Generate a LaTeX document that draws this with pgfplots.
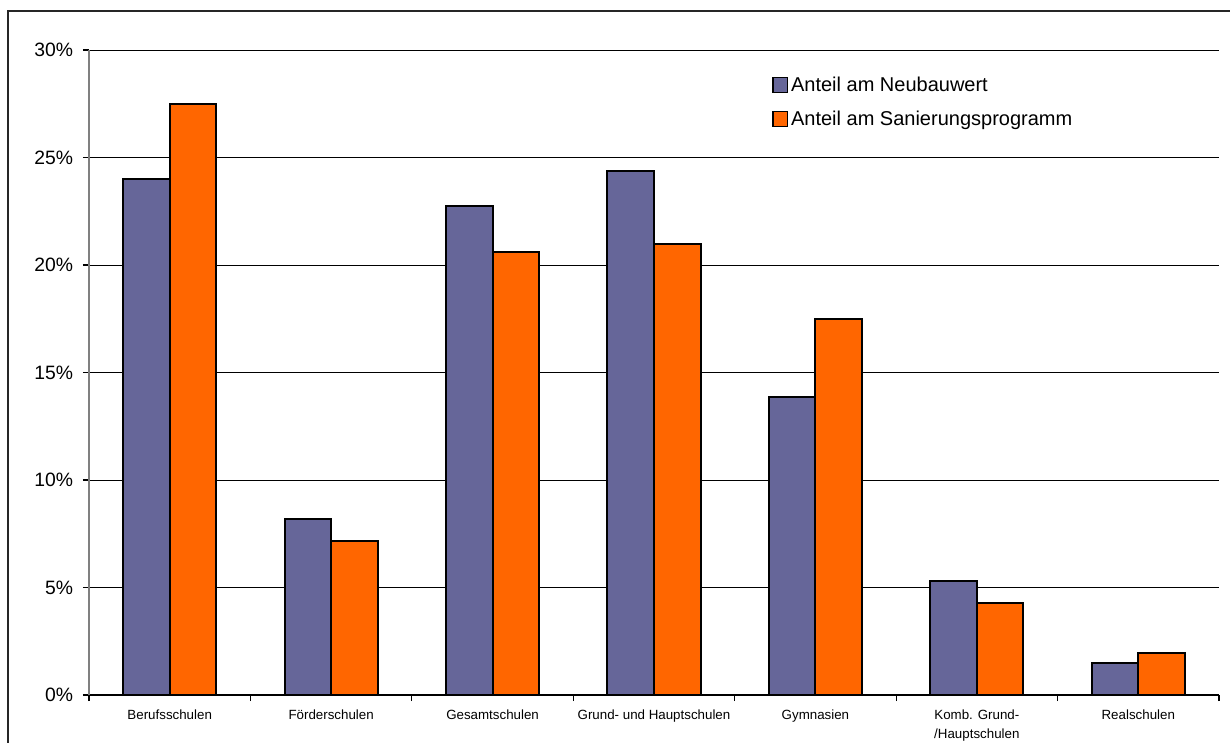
\documentclass[border=0pt]{standalone}
\usepackage{pgfplots}
\pgfplotsset{compat=1.18}
\usepackage{fontspec}
\setmainfont{Liberation Sans}
\definecolor{cblue}{HTML}{666699}
\definecolor{corange}{HTML}{FF6600}
\begin{document}
\begin{tikzpicture}[x=0.75pt,y=0.75pt]
\useasboundingbox (0,0) rectangle (1230,742);
\draw[line width=1.1pt, black!85] (8,-20) -- (8,731) -- (1260,731);
\begin{axis}[
  at={(66.75pt,35.25pt)}, anchor=south west,
  scale only axis,
  width=847.5pt, height=483.75pt,
  ybar=0pt, bar width=34.9pt,
  xmin=-0.5, xmax=6.5, ymin=0, ymax=30,
  axis x line*=bottom, axis y line*=left,
  x axis line style={-, black, line width=0.9pt},
  y axis line style={-, gray, line width=0.9pt},
  xtick={0,...,6},
  xticklabels={Berufsschulen,Förderschulen,Gesamtschulen,Grund- und Hauptschulen,Gymnasien,{Komb. Grund-\\/Hauptschulen},Realschulen},
  xticklabel style={align=center, font=\fontsize{10}{14}\selectfont, text depth=0pt, yshift=-3pt},
  major x tick style={draw=none},
  minor xtick={-0.5,0.5,...,6.5},
  minor x tick style={black, line width=0.8pt},
  ytick={0,5,...,30},
  yticklabel={\pgfmathprintnumber{\tick}\%},
  yticklabel style={font=\fontsize{14.5}{16}\selectfont, xshift=-4pt},
  y tick style={black, line width=0.8pt},
  tick align=outside,
  major tick length=4.5pt, minor tick length=4.5pt,
  ymajorgrids, grid style={black, line width=0.6pt},
  /pgf/number format/assume math mode=true,
  legend style={at={(0.601,0.967)}, anchor=north west, draw=none, fill=none,
    font=\fontsize{15}{18}\selectfont, row sep=9pt,
    legend cell align=left},
  legend image code/.code={\draw[#1, line width=1pt] (0pt,-5.5pt) rectangle (11pt,5.5pt);},
]
\addplot[fill=cblue, draw=black, line width=1.5pt] coordinates {(0,24.0) (1,8.2) (2,22.75) (3,24.37) (4,13.86) (5,5.3) (6,1.49)};
\addplot[fill=corange, draw=black, line width=1.5pt] coordinates {(0,27.5) (1,7.16) (2,20.6) (3,20.98) (4,17.49) (5,4.28) (6,1.95)};
\legend{Anteil am Neubauwert, Anteil am Sanierungsprogramm}
\end{axis}
\end{tikzpicture}
\end{document}
